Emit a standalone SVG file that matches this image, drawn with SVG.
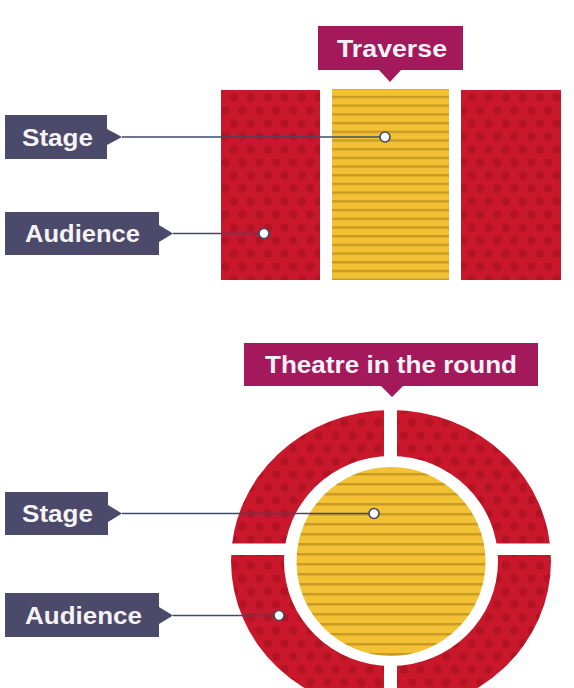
<svg xmlns="http://www.w3.org/2000/svg" width="574" height="688" viewBox="0 0 574 688">
  <style>
    .lbl { fill: #4b4a6a; }
    .ttl { fill: #a3195b; }
    .txt { font-family: "Liberation Sans", Arial, sans-serif; font-weight: bold; font-size: 23px; fill: #f6f2f6; }
    .red { fill: url(#dots); }
    .yel { fill: url(#stripes); }
    .yel2 { fill: url(#stripes2); }
    .con { stroke: #3f4a66; stroke-width: 1.4; fill: none; }
    .end { fill: #ffffff; stroke: #3f4a66; stroke-width: 1.6; }
  </style>
  <defs>
    <pattern id="dots" patternUnits="userSpaceOnUse" width="17" height="26">
      <rect width="17" height="26" fill="#c9172b"/>
      <circle cx="4.25" cy="6.5" r="4.2" fill="#b31322"/>
      <circle cx="12.75" cy="19.5" r="4.2" fill="#b31322"/>
    </pattern>
    <pattern id="stripes" patternUnits="userSpaceOnUse" width="20" height="8.7" y="3">
      <rect width="20" height="8.7" fill="#f2c234"/>
      <rect y="5.8" width="20" height="2.4" fill="#c99b24"/>
    </pattern>
    <pattern id="stripes2" patternUnits="userSpaceOnUse" width="20" height="10" y="466">
      <rect width="20" height="10" fill="#f2c234"/>
      <rect y="7" width="20" height="2.5" fill="#c99b24"/>
    </pattern>
  </defs>
  <rect width="574" height="688" fill="#ffffff"/>

  <!-- Traverse -->
  <g id="traverse-title">
    <path class="ttl" d="M318 26 H463 V70 H401 L390 82 L379 70 H318 Z"/>
    <text class="txt" x="392" y="57" text-anchor="middle" textLength="110" lengthAdjust="spacingAndGlyphs">Traverse</text>
  </g>
  <g id="traverse-audience-left">
    <rect class="red" x="221" y="90" width="99" height="190"/>
  </g>
  <g id="traverse-stage">
    <rect class="yel" x="332" y="89" width="117" height="191"/>
  </g>
  <g id="traverse-audience-right">
    <rect class="red" x="461" y="90" width="100" height="190"/>
  </g>
  <g id="traverse-stage-label">
    <path class="lbl" d="M5 115 H107 V129 L122 137 L107 145 V159 H5 Z"/>
    <text class="txt" x="22" y="145.5" textLength="71" lengthAdjust="spacingAndGlyphs">Stage</text>
  </g>
  <g id="traverse-audience-label">
    <path class="lbl" d="M5 212 H159 V225 L173 233.5 L159 242 V255 H5 Z"/>
    <text class="txt" x="25" y="242" textLength="115" lengthAdjust="spacingAndGlyphs">Audience</text>
  </g>

  <!-- Theatre in the round -->
  <g id="round-title">
    <path class="ttl" d="M244 343 H538 V386 H403 L392 397 L381 386 H244 Z"/>
    <text class="txt" x="391" y="373" text-anchor="middle" textLength="252" lengthAdjust="spacingAndGlyphs">Theatre in the round</text>
  </g>
  <g id="round-audience">
    <path class="red" fill-rule="evenodd" d="M231 561 A160 151 0 1 0 551 561 A160 151 0 1 0 231 561 Z M284 561 A107 105 0 1 0 498 561 A107 105 0 1 0 284 561 Z"/>
    <rect x="384" y="400" width="13" height="290" fill="#ffffff"/>
    <rect x="220" y="543.5" width="345" height="11.5" fill="#ffffff"/>
  </g>
  <g id="round-stage">
    <circle class="yel2" cx="391" cy="561.5" r="94.5"/>
  </g>
  <g id="round-stage-label">
    <path class="lbl" d="M5 492 H108 V505 L122 513.5 L108 522 V535 H5 Z"/>
    <text class="txt" x="22" y="522" textLength="71" lengthAdjust="spacingAndGlyphs">Stage</text>
  </g>
  <g id="round-audience-label">
    <path class="lbl" d="M5 593 H159 V607 L173 615.5 L159 624 V637 H5 Z"/>
    <text class="txt" x="25" y="624" textLength="117" lengthAdjust="spacingAndGlyphs">Audience</text>
  </g>

  <!-- Connectors -->
  <g id="connectors">
    <line class="con" x1="122" y1="137" x2="380" y2="137"/>
    <circle class="end" cx="385" cy="137" r="5"/>
    <line class="con" x1="173" y1="233.5" x2="259" y2="233.5"/>
    <circle class="end" cx="264" cy="233.5" r="5"/>
    <line class="con" x1="122" y1="513.5" x2="369" y2="513.5"/>
    <circle class="end" cx="374" cy="513.5" r="5"/>
    <line class="con" x1="173" y1="615.5" x2="274" y2="615.5"/>
    <circle class="end" cx="279" cy="615.5" r="5"/>
  </g>
</svg>
